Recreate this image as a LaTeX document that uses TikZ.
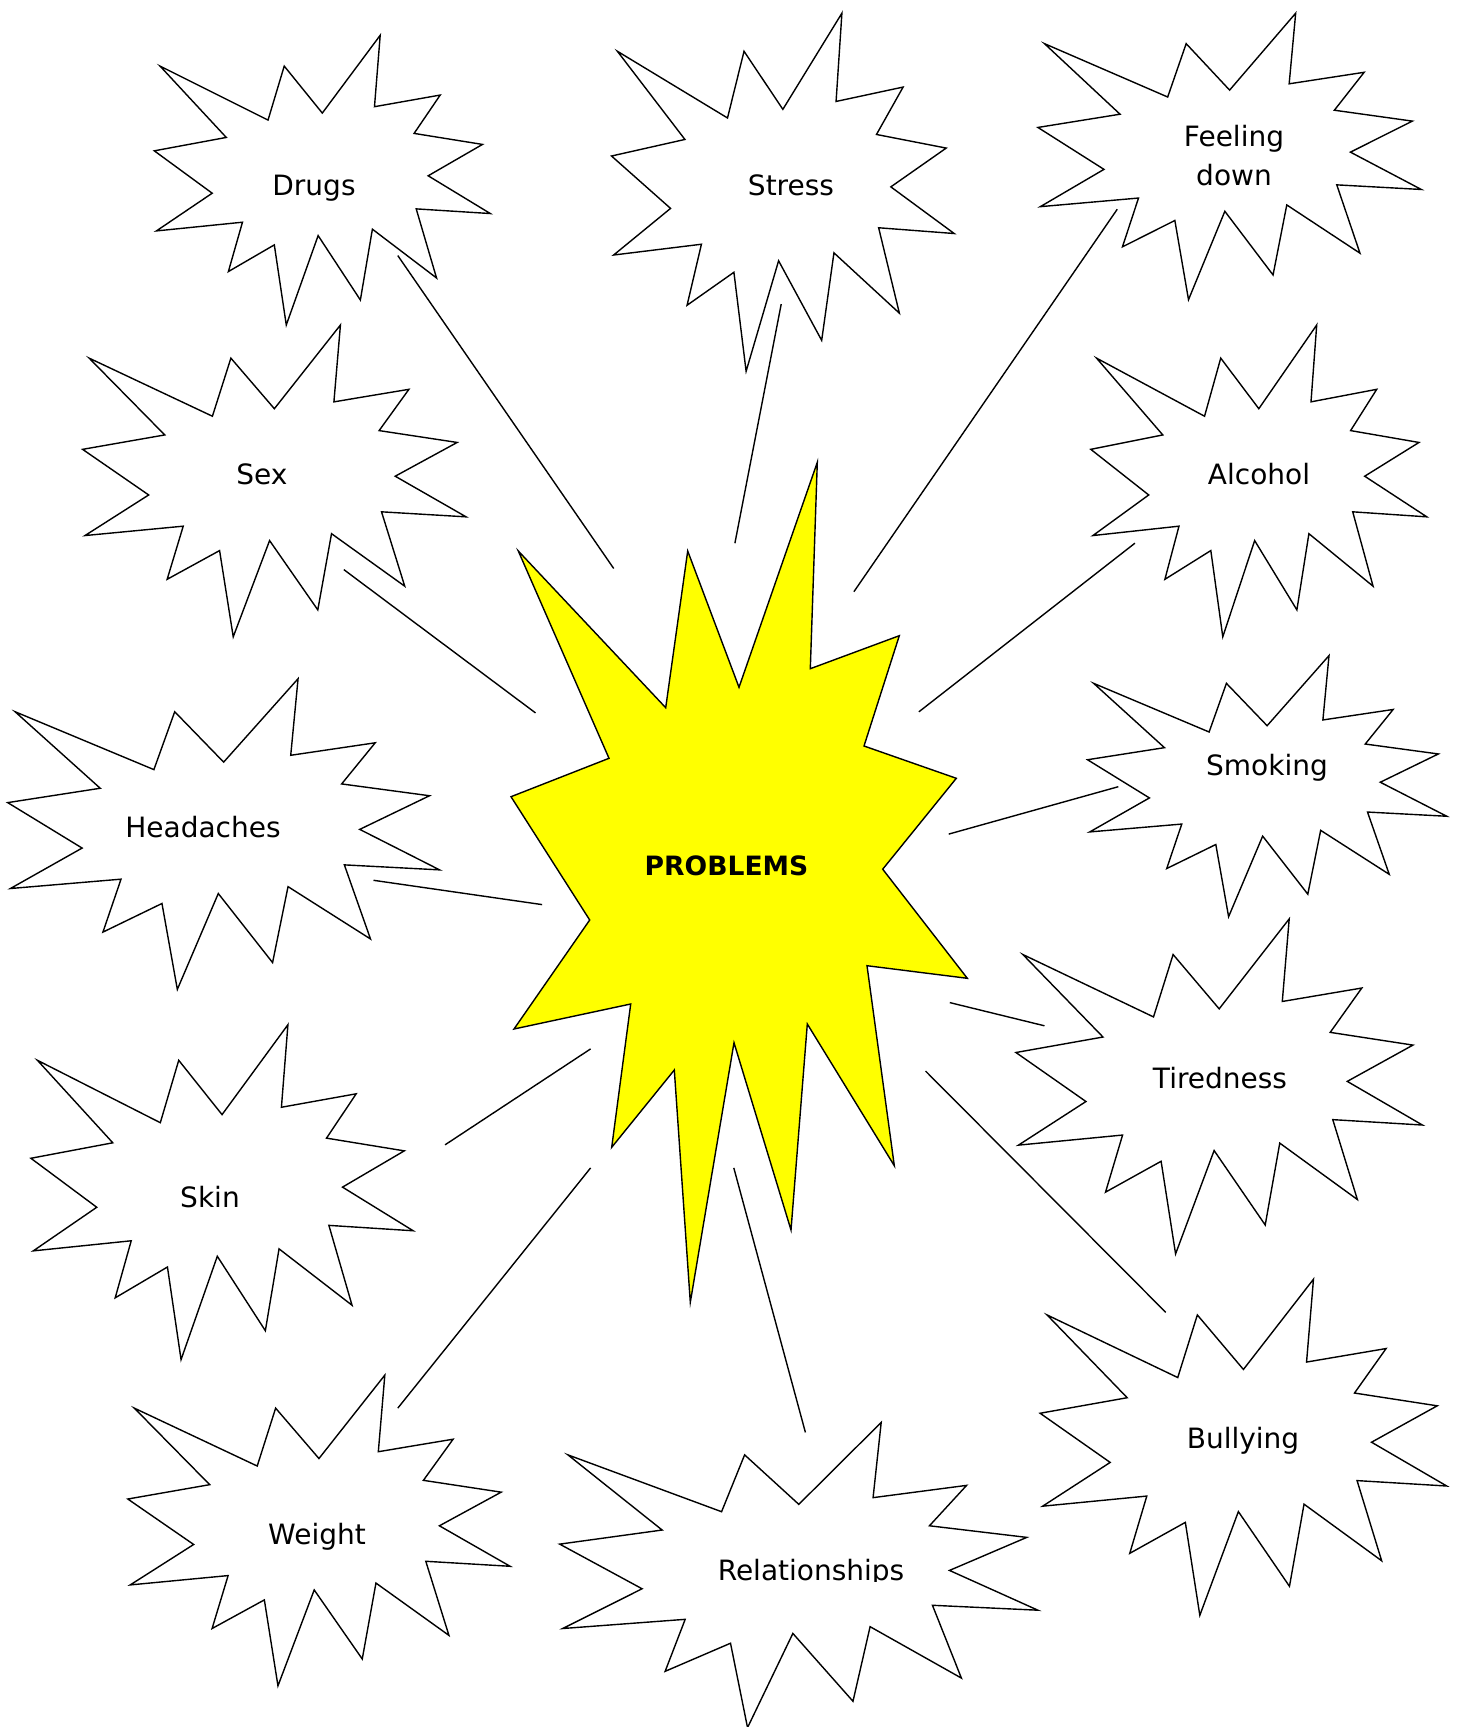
\documentclass[tikz,border=0pt]{standalone}
\usepackage{fontspec}
\setmainfont{DejaVu Sans}
\begin{document}
\begin{tikzpicture}[x=0.5pt,y=-0.5pt,
  sealline/.style={draw=black,line width=0.7pt,line join=miter,fill=white},
  boomline/.style={draw=black,line width=0.7pt,line join=miter,fill={rgb,255:red,255;green,255;blue,0}},
  link/.style={draw=black,line width=0.7pt},
  lbl/.style={anchor=base,inner sep=0pt,font=\fontsize{14}{19.3}\selectfont},
  bigl/.style={anchor=base,inner sep=0pt,font=\fontsize{13.3}{16}\selectfont\bfseries},
  seal/.pic={\path[sealline] (0.5,0.2685) -- (0.6723,0) -- (0.6553,0.2465) -- (0.8509,0.2063) -- (0.7732,0.3387) -- (0.9767,0.3767) -- (0.8151,0.4850) -- (1,0.6153) -- (0.7795,0.5992) -- (0.8400,0.8377) -- (0.6491,0.6693) -- (0.6133,0.9137) -- (0.4876,0.6914) -- (0.3928,1) -- (0.3572,0.7235) -- (0.2205,0.8156) -- (0.2624,0.6452) -- (0.00625,0.6753) -- (0.1723,0.5451) -- (0,0.3988) -- (0.2142,0.3526) -- (0.0171,0.1063) -- (0.3385,0.2926) -- (0.3867,0.1063) -- cycle;}
]
\useasboundingbox[fill=white] (0,0) rectangle (1461,1727);

% connector end points
\coordinate (drugsA) at (397.8,255.6);   \coordinate (drugsB) at (613.7,568.5);
\coordinate (stressA) at (781.2,304.1);  \coordinate (stressB) at (734.9,543.2);
\coordinate (feelA) at (1117.2,209.3);   \coordinate (feelB) at (853.9,591.7);
\coordinate (sexA) at (343.8,569.6);     \coordinate (sexB) at (535.5,712.9);
\coordinate (alcA) at (1134.9,543.2);    \coordinate (alcB) at (918.9,711.8);
\coordinate (headA) at (373.5,880.3);    \coordinate (headB) at (542.1,904.6);
\coordinate (smokA) at (1118.3,786.7);   \coordinate (smokB) at (948.7,834.1);
\coordinate (tirA) at (1044.5,1025.8);   \coordinate (tirB) at (949.8,1002.6);
\coordinate (skinA) at (445.1,1144.8);   \coordinate (skinB) at (590.6,1048.9);
\coordinate (bullA) at (1165.7,1312.3);  \coordinate (bullB) at (925.5,1071);
\coordinate (weiA) at (397.8,1408.1);    \coordinate (weiB) at (590.6,1167.9);
\coordinate (relA) at (805.4,1432.4);    \coordinate (relB) at (733.8,1167.9);

% stars
\pic[xscale=336,yscale=289.7] at (154.3,35.3) {seal};
\pic[xscale=342.7,yscale=358.1] at (611.5,13.2) {seal};
\pic[xscale=383.4,yscale=286.5] at (1037.9,13.2) {seal};
\pic[xscale=383.5,yscale=311.8] at (82.6,325.0) {seal};
\pic[xscale=336,yscale=311.8] at (1090.8,325.0) {seal};
\pic[xscale=431.9,yscale=310.7] at (7.7,678.7) {seal};
\pic[xscale=359.2,yscale=261.1] at (1087.5,655.6) {seal};
\pic[xscale=406.5,yscale=335] at (1015.9,918.9) {seal};
\pic[xscale=382.3,yscale=334.9] at (30.9,1024.7) {seal};
\pic[xscale=406.6,yscale=336.1] at (1040.1,1279.2) {seal};
\pic[xscale=382.3,yscale=310.7] at (127.8,1375.1) {seal};
\pic[xscale=478.2,yscale=305.2] at (559.7,1422.4) {seal};

% central explosion
\path[boomline] (518.3,551) -- (665.7,707.7) -- (687.7,551) -- (739,687.3) -- (817.3,462.3) -- (810.3,668.7) -- (899.3,635.7) -- (864,746) -- (956.3,778.3) -- (882.7,869.2) -- (967.3,978.3) -- (867,965.7) -- (894.3,1165.7) -- (807.3,1024) -- (791,1230) -- (734,1042.7) -- (690.3,1302.3) -- (674.3,1070) -- (611.7,1147.3) -- (630.7,1004) -- (514,1029) -- (589.7,920) -- (511,796.7) -- (609,758.3) -- cycle;

% connectors
\draw[link] (drugsA) -- (drugsB);
\draw[link] (stressA) -- (stressB);
\draw[link] (feelA) -- (feelB);
\draw[link] (sexA) -- (sexB);
\draw[link] (alcA) -- (alcB);
\draw[link] (headA) -- (headB);
\draw[link] (smokA) -- (smokB);
\draw[link] (tirA) -- (tirB);
\draw[link] (skinA) -- (skinB);
\draw[link] (bullA) -- (bullB);
\draw[link] (weiA) -- (weiB);
\draw[link] (relA) -- (relB);

% labels
\node[lbl] (drugs) at (314,196) {Drugs};
\node[lbl] (stress) at (791,196) {Stress};
\node[lbl] (feeling) at (1234,147) {\def\arraystretch{1}\begin{tabular}[t]{@{}c@{}}Feeling\\down\end{tabular}};
\node[lbl] (sex) at (262,484) {Sex};
\node[lbl] (alcohol) at (1259,484) {Alcohol};
\node[lbl] (headaches) at (203,837) {Headaches};
\node[lbl] (smoking) at (1267,775) {Smoking};
\node[lbl] (tiredness) at (1220,1088) {Tiredness};
\node[lbl] (skin) at (210,1207) {Skin};
\node[lbl] (bullying) at (1243,1448) {Bullying};
\node[lbl] (weight) at (317,1544) {Weight};
\begin{scope}
\clip (560,1540) rectangle (1040,1581);
\node[lbl] (relationships) at (811,1580) {Relationships};
\end{scope}
\node[bigl] (problems) at (726.5,875) {PROBLEMS};
\end{tikzpicture}
\end{document}
